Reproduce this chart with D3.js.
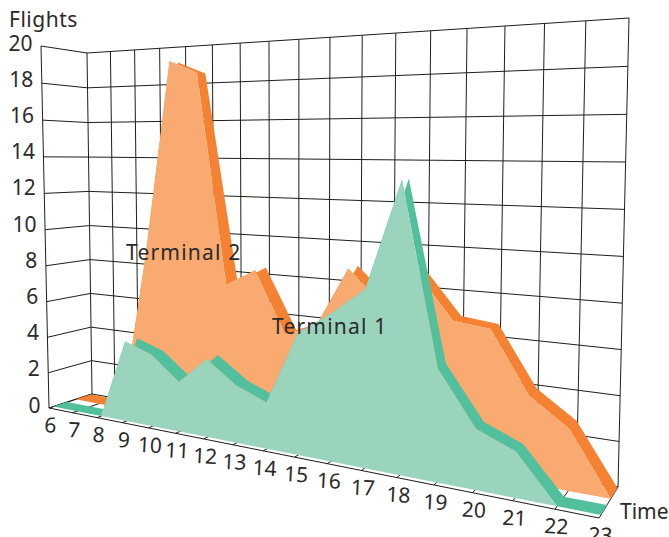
<!DOCTYPE html>
<html>
<head>
<meta charset="utf-8">
<script src="https://cdn.jsdelivr.net/npm/d3@7.9.0/dist/d3.min.js"></script>
<style>
  html, body { margin: 0; padding: 0; background: #fff; }
  svg { display: block; }
  text { font-family: "Noto Sans", sans-serif; font-size: 21px; fill: #2b2a29; }
  .wide { letter-spacing: 1.2px; }
  .grid { stroke: #1d1d1b; stroke-width: 1; fill: none; }
</style>
</head>
<body>
<svg width="669" height="537"></svg>
<script>
const times = [6, 7, 8, 9, 10, 11, 12, 13, 14, 15, 16, 17, 18, 19, 20, 21, 22, 23];
const flightTicks = [0, 2, 4, 6, 8, 10, 12, 14, 16, 18, 20];
const terminal1 = [0, 0, 0, 4.3, 3.8, 2.6, 4, 2.9, 2.3, 5.9, 7, 8.3, 13.3, 5.1, 2.7, 2, 0, 0];
const terminal2 = [0, 0, 0, 8.7, 19.1, 18.45, 7.5, 8.4, 5.3, 5.9, 8.85, 7.3, 8.9, 6.85, 6.65, 3.9, 2.7, 0];

const svg = d3.select('svg');

const timeScale = d3.scaleLinear().domain([6, 23]).range([0, 1]);
const flightScale = d3.scaleLinear().domain([0, 20]).range([0, 1]);
const flightLabelY = d3.scaleLinear().domain([0, 20]).range([405, 43]);

// square -> quad, corners are bottom left, bottom right, top right, top left
function quadMap([p0, p1, p2, p3]) {
  const dx1 = p1[0] - p2[0], dy1 = p1[1] - p2[1];
  const dx2 = p3[0] - p2[0], dy2 = p3[1] - p2[1];
  const sx = p0[0] - p1[0] + p2[0] - p3[0];
  const sy = p0[1] - p1[1] + p2[1] - p3[1];
  const den = dx1 * dy2 - dx2 * dy1;
  const g = (sx * dy2 - dx2 * sy) / den;
  const h = (dx1 * sy - sx * dy1) / den;
  const a = p1[0] - p0[0] + g * p1[0], b = p3[0] - p0[0] + h * p3[0];
  const d = p1[1] - p0[1] + g * p1[1], e = p3[1] - p0[1] + h * p3[1];
  return (u, v) => {
    const q = g * u + h * v + 1;
    return [(a * u + b * v + p0[0]) / q, (d * u + e * v + p0[1]) / q];
  };
}

const frontPlane = quadMap([[49, 408], [599, 518], [611, 12], [41, 46]]);
const backPlane = quadMap([[92, 394], [618, 487], [629, 18], [87, 53]]);

// time, flights, depth (0 front, 1 back wall)
function project(t, f, w) {
  const a = frontPlane(timeScale(t), flightScale(f));
  const b = backPlane(timeScale(t), flightScale(f));
  return [a[0] + (b[0] - a[0]) * w, a[1] + (b[1] - a[1]) * w];
}

const line = d3.line();

function gridLine(points) {
  svg.append('path').attr('class', 'grid').attr('d', line(points));
}

// back wall and left wall
flightTicks.forEach((f) => {
  gridLine([project(6, f, 0), project(6, f, 1), project(23, f, 1)]);
});
times.forEach((t) => {
  gridLine([project(t, 0, 1), project(t, 20, 1)]);
  gridLine([project(t, 0, 0), project(t, 0, 1)]);
});
gridLine([project(6, 0, 0), project(6, 20, 0)]);
gridLine([project(6, 0, 0), project(23, 0, 0)]);

function drawRibbon(values, frontW, backW, faceColor, topColor) {
  const front = times.map((t, i) => project(t, values[i], frontW));
  // the top strip gets narrower with height in the original
  const back = times.map((t, i) => {
    const depth = (backW - frontW) * (1 - 0.45 * values[i] / 20);
    return project(t, values[i], frontW + depth);
  });
  const base = times.map((t) => project(t, 0, frontW));
  svg.append('path')
    .attr('d', line(front.concat(back.slice().reverse())) + 'Z')
    .attr('fill', topColor);
  svg.append('path')
    .attr('d', line(front.concat(base.slice().reverse())) + 'Z')
    .attr('fill', faceColor);
}

drawRibbon(terminal2, 0.62, 0.97, '#f9aa70', '#f58233');
drawRibbon(terminal1, 0.1, 0.42, '#9ad4bd', '#52c09d');

flightTicks.forEach((f) => {
  svg.append('text')
    .attr('x', project(6, f, 0)[0] - 8.5)
    .attr('y', flightLabelY(f))
    .attr('dy', '0.36em')
    .attr('text-anchor', 'end')
    .text(f);
});

times.forEach((t) => {
  const [x, y] = project(t, 0, 0);
  svg.append('text')
    .attr('transform', `translate(${x + 1.5},${y + 17}) rotate(3)`)
    .attr('dy', '0.36em')
    .attr('text-anchor', 'middle')
    .text(t);
});

svg.append('text').attr('x', 9).attr('y', 27).attr('letter-spacing', '0.5px').text('Flights');
svg.append('text').attr('x', 620).attr('y', 519).text('Time');
svg.append('text').attr('x', 126).attr('y', 260).attr('class', 'wide').text('Terminal 2');
svg.append('text').attr('x', 272).attr('y', 334).attr('class', 'wide').text('Terminal 1');
</script>
</body>
</html>
